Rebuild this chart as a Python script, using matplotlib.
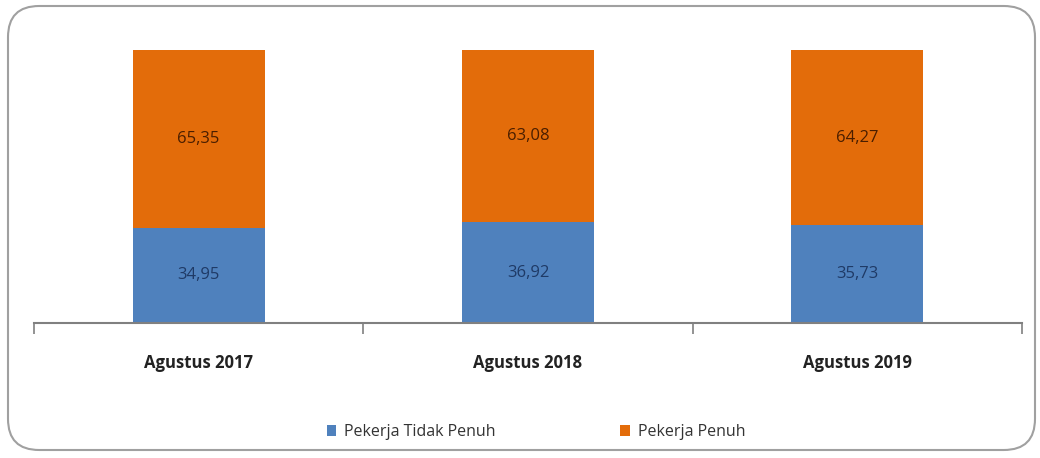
import matplotlib
matplotlib.use("Agg")
import matplotlib.pyplot as plt
from matplotlib.patches import FancyBboxPatch
import numpy as np

categories = ["Agustus 2017", "Agustus 2018", "Agustus 2019"]
tidak_penuh = [34.95, 36.92, 35.73]
penuh = [65.35, 63.08, 64.27]
series_names = ["Pekerja Tidak Penuh", "Pekerja Penuh"]

FONT = ["Liberation Sans Narrow", "Open Sans", "DejaVu Sans"]
plt.rcParams['font.family'] = FONT

blue = "#4F81BD"
orange = "#E36C0A"

fig = plt.figure(figsize=(10.4, 4.58), dpi=100)
ax = fig.add_axes([34/1040, 1-323/458, (1022-34)/1040, (323-50)/458])

tp = np.array(tidak_penuh)
pn = np.array(penuh)
tot = tp + pn
tp_pct = tp / tot * 100
pn_pct = pn / tot * 100
x = np.arange(len(categories))
w = 0.4
b1 = ax.bar(x, tp_pct, w, color=blue, label=series_names[0])
b2 = ax.bar(x, pn_pct, w, bottom=tp_pct, color=orange, label=series_names[1])

for i in range(len(categories)):
    ax.text(x[i], tp_pct[i]/2, f"{tidak_penuh[i]:.2f}".replace(".", ","),
            ha="center", va="center", fontsize=12, color="#1F3A66")
    ax.text(x[i], tp_pct[i] + pn_pct[i]/2, f"{penuh[i]:.2f}".replace(".", ","),
            ha="center", va="center", fontsize=12, color="#4A1E00")

ax.set_xlim(-0.5, len(categories) - 0.5)
ax.set_ylim(0, 100)
for s in ["top", "right", "left"]:
    ax.spines[s].set_visible(False)
ax.spines["bottom"].set_color("#808080")
ax.spines["bottom"].set_linewidth(1.5)
ax.set_yticks([])
ax.set_xticks(np.arange(-0.5, len(categories), 1.0))
ax.set_xticklabels([])
ax.tick_params(axis="x", length=8, width=1.2, color="#808080", direction="out")
ax.set_xticks(x, minor=True)
ax.set_xticklabels(categories, minor=True, fontsize=12, fontweight="bold", color="#222222")
ax.tick_params(axis="x", which="minor", length=0, pad=22)

leg = fig.legend(handles=[b1, b2], labels=series_names, loc="center",
                 bbox_to_anchor=(536/1040, 1-432/458), ncol=2, frameon=False,
                 fontsize=11.5, handlelength=0.6, handleheight=0.7, handletextpad=0.5,
                 columnspacing=7.8)
for t in leg.get_texts():
    t.set_color("#333333")

border = FancyBboxPatch((8/1040, 8/458), (1035-8)/1040, (452-8)/458,
                        boxstyle="round,pad=0,rounding_size=0.03",
                        transform=fig.transFigure, fill=False,
                        edgecolor="#A0A0A0", linewidth=1.5, mutation_aspect=1040/458)
fig.patches.append(border)

fig.savefig("out.png", dpi=100)
